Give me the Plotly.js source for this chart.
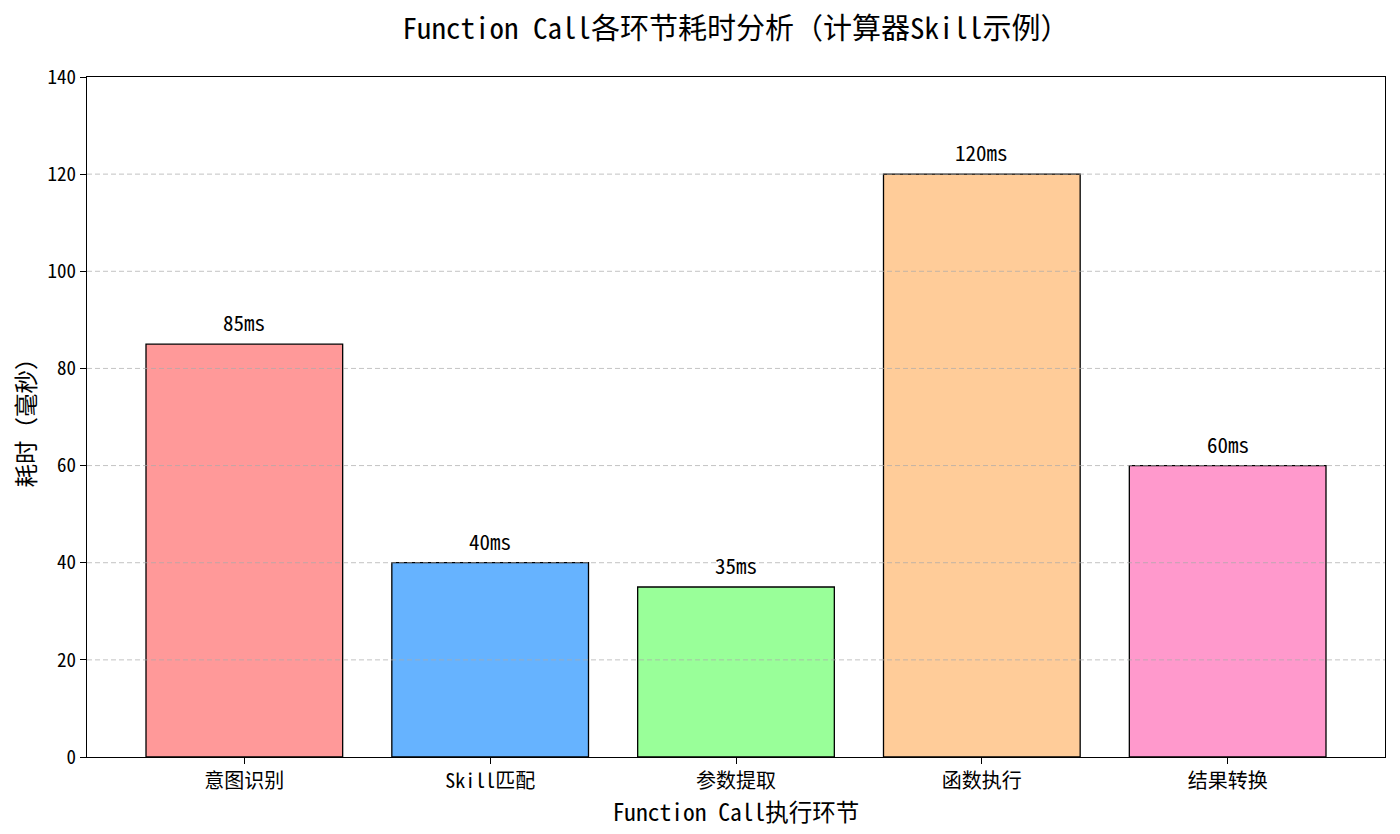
<!DOCTYPE html>
<html>
<head>
<meta charset="utf-8">
<script src="https://cdn.plot.ly/plotly-3.0.1.min.js"></script>
<style>
  html, body { margin: 0; padding: 0; background: #fff; }
  #chart { width: 1400px; height: 834px; }
</style>
</head>
<body>
<div id="chart"></div>
<script>
// Function Call stages and measured time (ms)
var stages = ['意图识别', 'Skill匹配', '参数提取', '函数执行', '结果转换'];
var durations = [85, 40, 35, 120, 60];
var barColors = ['#ff9999', '#66b3ff', '#99ff99', '#ffcc99', '#ff99cc'];
var yTicks = [0, 20, 40, 60, 80, 100, 120, 140];
var gridTicks = [20, 40, 60, 80, 100, 120];

var fontFamily = "'Noto Sans Mono CJK SC', 'Noto Sans CJK SC', monospace";

var trace = {
    type: 'bar',
    x: stages,
    y: durations,
    width: 0.8,
    marker: {
        color: barColors,
        line: { color: '#000', width: 1.3 }
    },
    hoverinfo: 'x+y'
};

// value labels above each bar
var labels = stages.map(function(s, i) {
    return {
        x: s, y: durations[i], xref: 'x', yref: 'y',
        text: durations[i] + 'ms',
        showarrow: false,
        yanchor: 'bottom',
        yshift: 5,
        font: { family: fontFamily, size: 21, color: '#000' }
    };
});

// grid lines sit on top of the bars, like in the original
var gridShapes = gridTicks.map(function(t) {
    return {
        type: 'line', xref: 'paper', yref: 'y',
        x0: 0, x1: 1, y0: t, y1: t,
        layer: 'above',
        line: { color: 'rgba(170,170,170,0.7)', width: 1, dash: '5px,3px' }
    };
});

var layout = {
    width: 1400,
    height: 834,
    font: { family: fontFamily, color: '#000' },
    paper_bgcolor: '#fff',
    plot_bgcolor: '#fff',
    margin: { l: 87, r: 15, t: 77, b: 77 },
    title: {
        text: 'Function Call各环节耗时分析（计算器Skill示例）',
        font: { family: fontFamily, size: 29, color: '#000' },
        xref: 'paper', x: 0.5, xanchor: 'center',
        y: 0.966, yanchor: 'middle'
    },
    xaxis: {
        type: 'category',
        range: [-0.64, 4.64],
        showgrid: false,
        showline: true, mirror: true, linecolor: '#000', linewidth: 1.3,
        ticks: 'outside', ticklen: 6, tickcolor: '#000', tickwidth: 1.2,
        tickfont: { family: fontFamily, size: 20, color: '#000' },
        title: { text: 'Function Call执行环节', font: { family: fontFamily, size: 23.5, color: '#000' }, standoff: 0 },
        zeroline: false
    },
    yaxis: {
        range: [0, 140],
        tickvals: yTicks,
        showgrid: false,
        showline: true, mirror: true, linecolor: '#000', linewidth: 1.3,
        ticks: 'outside', ticklen: 6, tickcolor: '#000', tickwidth: 1.2,
        tickfont: { family: fontFamily, size: 19, color: '#000' },
        title: { text: '耗时（毫秒）', font: { family: fontFamily, size: 23.5, color: '#000' }, standoff: 5 },
        zeroline: false
    },
    annotations: labels,
    shapes: gridShapes,
    showlegend: false,
    bargap: 0.2
};

Plotly.newPlot('chart', [trace], layout, { displayModeBar: false, responsive: false });
</script>
</body>
</html>
